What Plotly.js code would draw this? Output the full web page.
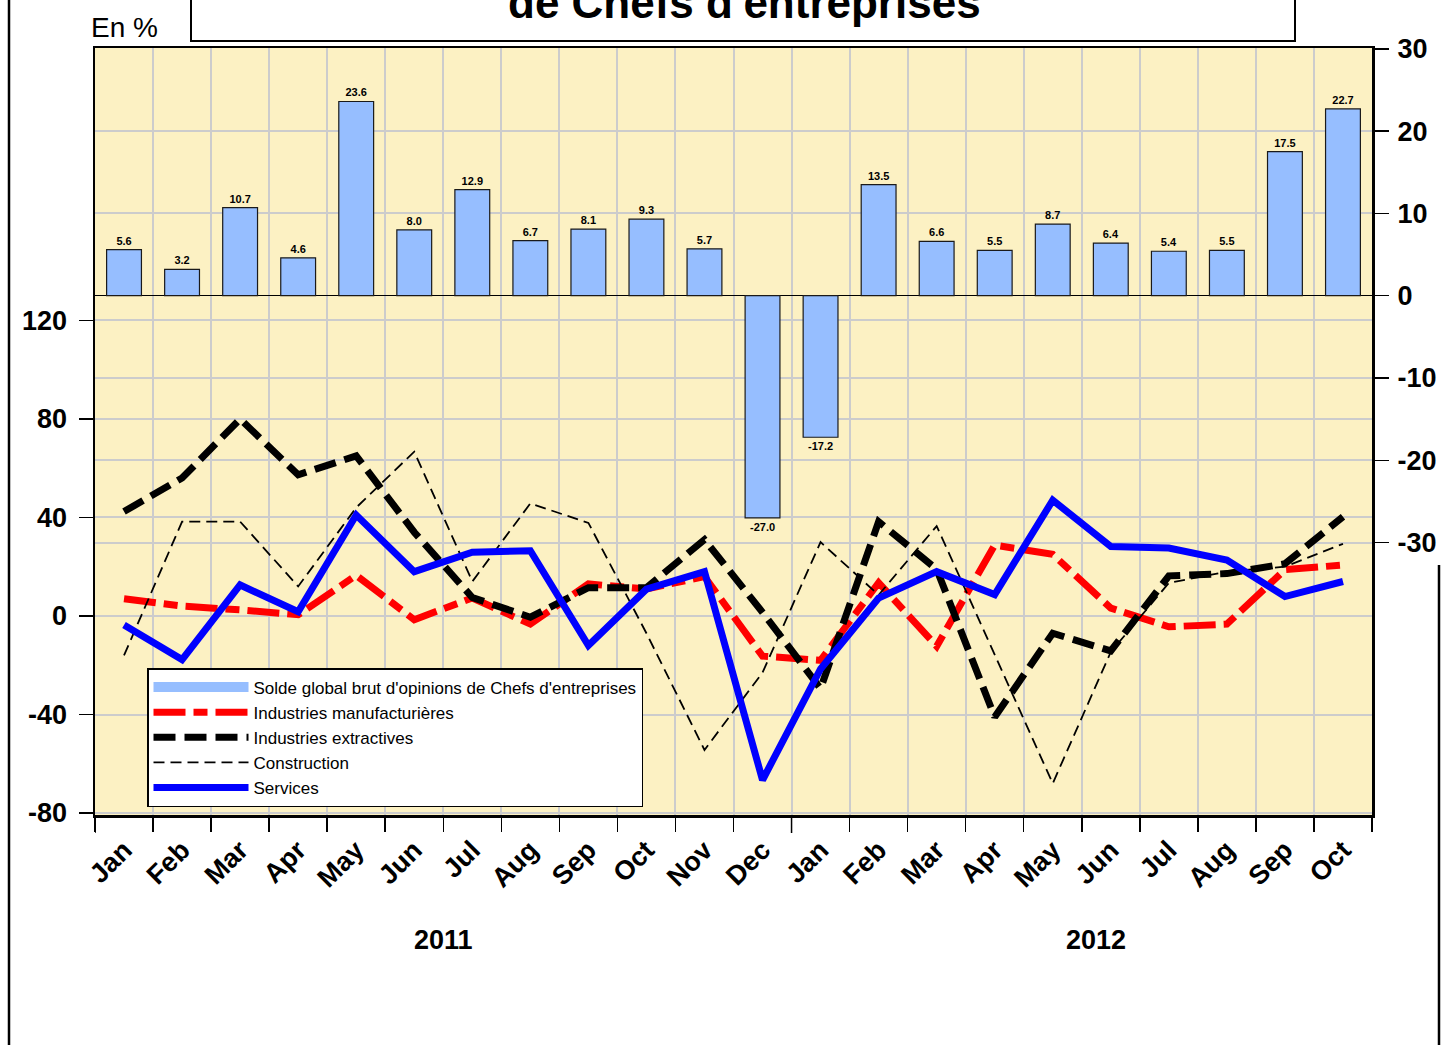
<!DOCTYPE html>
<html>
<head>
<meta charset="utf-8">
<script src="https://cdn.plot.ly/plotly-3.0.1.min.js"></script>
<style>html,body{margin:0;padding:0;background:#fff;}#chart{width:1442px;height:1045px;}</style>
</head>
<body>
<div id="chart"></div>
<script>
// ---- Data ----
const months = ["Jan","Feb","Mar","Apr","May","Jun","Jul","Aug","Sep","Oct","Nov","Dec",
                "Jan","Feb","Mar","Apr","May","Jun","Jul","Aug","Sep","Oct"];
const years = ["2011","2011","2011","2011","2011","2011","2011","2011","2011","2011","2011","2011",
               "2012","2012","2012","2012","2012","2012","2012","2012","2012","2012"];
const soldeGlobal = [5.6, 3.2, 10.7, 4.6, 23.6, 8.0, 12.9, 6.7, 8.1, 9.3, 5.7, -27.0,
                     -17.2, 13.5, 6.6, 5.5, 8.7, 6.4, 5.4, 5.5, 17.5, 22.7];
const manufacturieres = [7, 4, 2.5, 0.5, 16.5, -1.5, 7.3, -3.3, 13, 11, 16, -16.3,
                         -18, 13.5, -12.3, 28.8, 25, 3.2, -4.4, -3.3, 18.8, 20.7];
const extractives = [42.4, 56, 80, 57.3, 65, 34, 7.5, -0.5, 11.5, 11.5, 31, 1.5,
                     -29.5, 38.3, 19, -41, -7, -14.2, 16.3, 17.2, 21.2, 40.3];
const construction = [-16, 38.3, 38.3, 12, 44, 66.7, 14, 45.7, 37.8, -7, -54.4, -23,
                      30, 8.5, 36.5, -15.5, -68, -14.6, 13.4, 18, 20, 29.3];
const services = [-3.7, -17.7, 12.6, 1.7, 41, 18, 25.9, 26.5, -12, 10.9, 18, -66.6,
                  -21.5, 7.3, 18, 8.7, 47, 28.2, 27.6, 22.7, 7.9, 14];
const yearLabels = ["2011", "2012"];
const legendNames = ["Solde global brut d'opinions de Chefs d'entreprises",
  "Industries manufacturières", "Industries extractives", "Construction", "Services"];

const xcats = months.map((m, i) => m + " " + years[i]);
const FONT = '"Liberation Sans", Arial, sans-serif';
const BAR_COLOR = '#96BEFF';

const traces = [
  {
    type: 'bar', x: xcats, y: soldeGlobal, yaxis: 'y2', name: legendNames[0],
    showlegend: false,
    marker: {color: BAR_COLOR, line: {color: '#1a1a1a', width: 1.2}},
    width: 0.6,
    texttemplate: '<b>%{y:.1f}</b>', textposition: 'outside', cliponaxis: false,
    textfont: {family: FONT, size: 11, color: '#000'},
    hoverinfo: 'skip'
  },
  // legend-only key for the bar series (wide swatch, like the original)
  {
    type: 'scatter', mode: 'lines', x: [null], y: [null], yaxis: 'y2', name: legendNames[0],
    line: {color: BAR_COLOR, width: 13}, hoverinfo: 'skip'
  },
  {
    type: 'scatter', mode: 'lines', x: xcats, y: manufacturieres, name: legendNames[1],
    line: {color: '#FF0000', width: 7, dash: '32px,8px,14px,8px'}
  },
  {
    type: 'scatter', mode: 'lines', x: xcats, y: extractives, name: legendNames[2],
    line: {color: '#000000', width: 7, dash: '22px,9px'}
  },
  {
    type: 'scatter', mode: 'lines', x: xcats, y: construction, name: legendNames[3],
    line: {color: '#000000', width: 1.8, dash: '11px,6px'}
  },
  {
    type: 'scatter', mode: 'lines', x: xcats, y: services, name: legendNames[4],
    line: {color: '#0000FF', width: 7}
  }
];

const L = 95, R = 1372, T = 48, B = 815;
const W = 1442, H = 1045;
const px = v => (v - L) / (R - L);
const py = v => (B - v) / (B - T);

const layout = {
  width: W, height: H,
  margin: {l: L, r: W - R, t: T, b: H - B, pad: 0},
  paper_bgcolor: '#FFFFFF',
  plot_bgcolor: '#FCF1C3',
  font: {family: FONT, color: '#000'},
  showlegend: true,
  xaxis: {
    type: 'category', range: [-0.5, 21.5],
    tickvals: xcats, ticktext: months,
    tickson: 'boundaries', ticks: 'outside', ticklen: 14, tickwidth: 1.5, tickcolor: '#000',
    showgrid: true, gridcolor: '#CCCCCC', gridwidth: 2,
    tickangle: -45,
    tickfont: {family: FONT, size: 27, weight: 'bold', color: '#000'},
    ticklabelstandoff: 6,
    showline: true, linecolor: '#000', linewidth: 2.5, mirror: true,
    zeroline: false, fixedrange: true
  },
  yaxis: {
    range: [-80.8, 230.6],
    tickvals: [-80, -40, 0, 40, 80, 120],
    ticktext: ['-80', '-40', '0', '40', '80', '120'],
    ticks: 'outside', ticklen: 14, tickwidth: 1.5, tickcolor: '#000',
    showgrid: true, gridcolor: '#CCCCCC', gridwidth: 2,
    zeroline: false,
    showline: true, linecolor: '#000', linewidth: 2.5, mirror: true,
    tickfont: {family: FONT, size: 27, weight: 'bold', color: '#000'},
    ticklabelstandoff: 6
  },
  yaxis2: {
    overlaying: 'y', side: 'right',
    range: [-63.1, 30.1],
    tickvals: [-30, -20, -10, 0, 10, 20, 30],
    ticktext: ['-30', '-20', '-10', '0', '10', '20', '30'],
    ticks: 'outside', ticklen: 16, tickwidth: 1.5, tickcolor: '#000',
    showgrid: true, gridcolor: '#CCCCCC', gridwidth: 2,
    zeroline: true, zerolinecolor: '#000', zerolinewidth: 1.5,
    showline: false,
    tickfont: {family: FONT, size: 27, weight: 'bold', color: '#000'},
    ticklabelstandoff: 3
  },
  legend: {
    x: px(147), y: py(668), xanchor: 'left', yanchor: 'top',
    bgcolor: '#FFFFFF', bordercolor: '#000', borderwidth: 1.5,
    font: {family: FONT, size: 17, color: '#000'},
    itemwidth: 95, traceorder: 'normal', tracegroupgap: 0
  },
  shapes: [
    // title box
    {type: 'rect', xref: 'paper', yref: 'paper', x0: px(191), x1: px(1295), y0: py(41), y1: py(-20),
     line: {color: '#000', width: 2}, fillcolor: '#FFFFFF', layer: 'below'},
    // outer frame left / right
    {type: 'line', xref: 'paper', yref: 'paper', x0: px(9), x1: px(9), y0: py(0), y1: py(1045),
     line: {color: '#000', width: 2.5}},
    {type: 'line', xref: 'paper', yref: 'paper', x0: px(1439), x1: px(1439), y0: py(565), y1: py(1045),
     line: {color: '#000', width: 2.5}},
    // year separator ticks
    {type: 'line', xref: 'x', yref: 'paper', x0: -0.5, x1: -0.5, y0: 0, y1: py(833),
     line: {color: '#000', width: 1.5}},
    {type: 'line', xref: 'x', yref: 'paper', x0: 11.5, x1: 11.5, y0: 0, y1: py(833),
     line: {color: '#000', width: 1.5}}
  ],
  annotations: [
    {xref: 'paper', yref: 'paper', x: px(744), y: py(29), xanchor: 'center', yanchor: 'bottom',
     text: "<b>de Chefs d'entreprises</b>", showarrow: false,
     font: {family: FONT, size: 44, color: '#000'}},
    {xref: 'paper', yref: 'paper', x: px(89), y: py(45), xanchor: 'left', yanchor: 'bottom',
     text: 'En %', showarrow: false, font: {family: FONT, size: 28, color: '#000'}},
    {xref: 'x', yref: 'paper', x: 5.5, y: py(940), xanchor: 'center', yanchor: 'middle',
     text: '<b>' + yearLabels[0] + '</b>', showarrow: false, font: {family: FONT, size: 27, color: '#000'}},
    {xref: 'x', yref: 'paper', x: 16.75, y: py(940), xanchor: 'center', yanchor: 'middle',
     text: '<b>' + yearLabels[1] + '</b>', showarrow: false, font: {family: FONT, size: 27, color: '#000'}}
  ]
};

Plotly.newPlot('chart', traces, layout, {displayModeBar: false, staticPlot: true});
</script>
</body>
</html>
